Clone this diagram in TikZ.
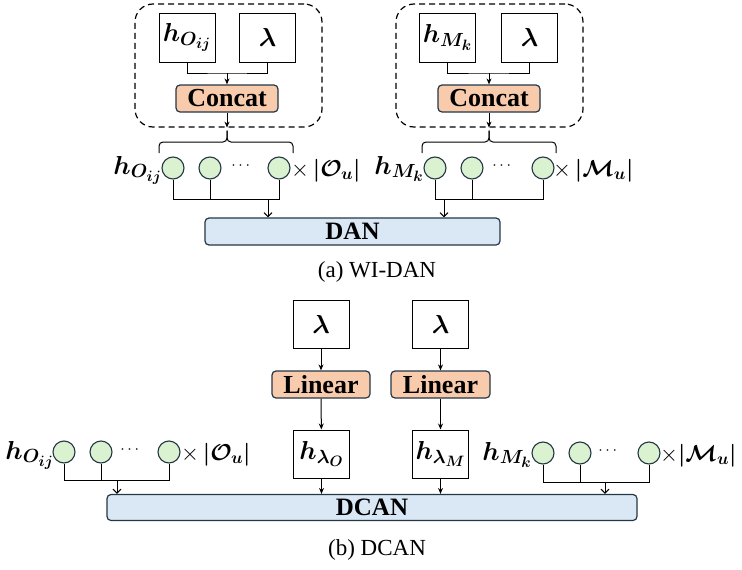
\RequirePackage{fix-cm}
\documentclass[tikz,border=0pt]{standalone}
\usepackage{amsmath}
\usepackage{fontspec}
\setmainfont{Liberation Serif}
\usetikzlibrary{arrows.meta}

% larger script levels for the embedding symbols
\DeclareMathSizes{26}{26}{19}{15}
\DeclareMathSizes{23}{23}{17}{13}

\definecolor{edgec}{HTML}{243746}
\definecolor{peach}{HTML}{F8CBAD}
\definecolor{palegreen}{HTML}{DAF2D0}
\definecolor{paleblue}{HTML}{DAE8F5}

\begin{document}
\begin{tikzpicture}[x=1pt,y=-1pt,
  inbox/.style={draw, line width=1pt, minimum width=56pt, minimum height=49pt,
    inner sep=0pt, font=\fontsize{26}{30}\selectfont\boldmath},
  opbox/.style={draw=edgec, fill=peach, rounded corners=4pt, line width=1.2pt,
    minimum height=27pt, inner sep=0pt, font=\fontsize{26}{30}\selectfont\bfseries},
  bar/.style={draw=edgec, fill=paleblue, rounded corners=4pt, line width=1.2pt,
    minimum height=27pt, inner sep=0pt, font=\fontsize{25}{30}\selectfont\bfseries},
  vec/.style={circle, draw=edgec, fill=palegreen, line width=1.1pt,
    minimum size=22pt, inner sep=0pt},
  group/.style={draw, dash pattern=on 6pt off 4pt, rounded corners=18pt,
    line width=1.2pt, minimum width=187pt, minimum height=123pt, inner sep=0pt},
  wire/.style={line width=1pt},
  feed/.style={wire, -{Stealth[length=6pt,width=5pt]}},
  merge/.style={wire, -{Straight Barb[length=4pt,width=8pt]}},
  lab/.style={font=\fontsize{26}{30}\selectfont\boldmath, inner sep=0pt},
  cnt/.style={font=\fontsize{23}{28}\selectfont\boldmath, inner sep=0pt},
  ell/.style={font=\fontsize{16}{18}\selectfont, inner sep=0pt},
  captext/.style={font=\fontsize{23}{28}\selectfont, inner sep=0pt}]
\useasboundingbox (0,0) rectangle (742,570);

% ---------------- (a) WI-DAN ----------------
% left group: object embedding + lambda
\node[group] (g1) at (228.5,65.5) {};
\node[inbox] (hO1) at (187,37.5) {$h_{O_{ij}}$};
\node[inbox] (lam1) at (267.5,37.5) {$\lambda$};
\node[opbox, minimum width=102pt] (cat1) at (227,98.5) {Concat};
\coordinate (j1) at (227,73);
\draw[wire] (hO1.south) |- (j1) -| (lam1.south);
\draw[feed] (j1) -- (cat1.north);
\coordinate (t1) at (cat1.south |- g1.south);
\draw[feed] (cat1.south) -- (t1);

% right group: motion embedding + lambda
\node[group] (g2) at (489.5,65.5) {};
\node[inbox] (hM1) at (447.5,37.5) {$h_{M_k}$};
\node[inbox] (lam2) at (529.5,37.5) {$\lambda$};
\node[opbox, minimum width=102pt] (cat2) at (489,98.5) {Concat};
\coordinate (j2) at (489,73);
\draw[wire] (hM1.south) |- (j2) -| (lam2.south);
\draw[feed] (j2) -- (cat2.north);
\coordinate (t2) at (cat2.south |- g2.south);
\draw[feed] (cat2.south) -- (t2);

% braces
\draw[wire, rounded corners=4pt] (159,153) -- (159,142) -- (t1 |- 0,142) -- ([yshift=-3pt]t1);
\draw[wire, rounded corners=4pt] (293,153) -- (293,142) -- (t1 |- 0,142) -- ([yshift=-3pt]t1);
\draw[wire, rounded corners=4pt] (422,153) -- (422,142) -- (t2 |- 0,142) -- ([yshift=-3pt]t2);
\draw[wire, rounded corners=4pt] (556,153) -- (556,142) -- (t2 |- 0,142) -- ([yshift=-3pt]t2);

% vector sets
\node[vec] (c11) at (173,168) {};
\node[vec] (c12) at (210,168) {};
\node[ell] (d1) at (242,166) {$\cdots$};
\node[vec] (c13) at (279,168) {};
\node[lab, anchor=base east] (l11) at (162,174) {$h_{O_{ij}}$};
\node[cnt, anchor=base west] (l12) at (291,176) {{\unboldmath$\times$}\,$|\mathcal{O}_{u}|$};

\node[vec] (c21) at (435,168) {};
\node[vec] (c22) at (472,168) {};
\node[ell] (d2) at (503,166) {$\cdots$};
\node[vec] (c23) at (543,168) {};
\node[lab, anchor=base east] (l21) at (424,174) {$h_{M_k}$};
\node[cnt, anchor=base west] (l22) at (553,176) {{\unboldmath$\times$}\,$|\mathcal{M}_{u}|$};

\node[bar, minimum width=295pt] (dan) at (352.5,231.5) {DAN};

\coordinate (m1) at (268,199);
\draw[wire] (c11.south) -- (c11.south |- m1) -- (c13.south |- m1) -- (c13.south);
\draw[wire] (c12.south) -- (c12.south |- m1);
\draw[merge] (m1) -- (m1 |- dan.north);

\coordinate (m2) at (444,199);
\draw[wire] (c21.south) -- (c21.south |- m2) -- (c23.south |- m2) -- (c23.south);
\draw[wire] (c22.south) -- (c22.south |- m2);
\draw[merge] (m2) -- (m2 |- dan.north);

\node[captext] (capa) at (377,272) {(a) WI-DAN};

% ---------------- (b) DCAN ----------------
\node[inbox, minimum height=48pt] (lamO) at (321,324) {$\lambda$};
\node[inbox, minimum height=48pt] (lamM) at (440.5,324) {$\lambda$};
\node[opbox, minimum width=98pt] (linO) at (321,384.5) {Linear};
\node[opbox, minimum width=99pt] (linM) at (440.5,384.5) {Linear};
\node[inbox, minimum height=48pt] (hlO) at (321.5,454) {$h_{\lambda_O}$};
\node[inbox, minimum height=48pt] (hlM) at (440.5,454) {$h_{\lambda_M}$};
\node[bar, minimum width=530pt, minimum height=26pt] (dcan) at (372,507.5) {DCAN};

\draw[feed] (lamO) -- (linO);
\draw[feed] (linO) -- (hlO);
\draw[feed] (hlO.south) -- (hlO.south |- dcan.north);
\draw[feed] (lamM) -- (linM);
\draw[feed] (linM) -- (hlM);
\draw[feed] (hlM.south) -- (hlM.south |- dcan.north);

\node[vec] (c31) at (64,452) {};
\node[vec] (c32) at (101,452) {};
\node[ell] (d3) at (131,450) {$\cdots$};
\node[vec] (c33) at (169,452) {};
\node[lab, anchor=base east] (l31) at (54,459) {$h_{O_{ij}}$};
\node[cnt, anchor=base west] (l32) at (181,460) {{\unboldmath$\times$}\,$|\mathcal{O}_{u}|$};

\node[vec] (c41) at (543,453) {};
\node[vec] (c42) at (580,453) {};
\node[ell] (d4) at (609,451) {$\cdots$};
\node[vec] (c43) at (649,453) {};
\node[lab, anchor=base east] (l41) at (532,460) {$h_{M_k}$};
\node[cnt, anchor=base west] (l42) at (660,461) {{\unboldmath$\times$}$|\mathcal{M}_{u}|$};

\coordinate (m3) at (117,480);
\draw[wire] (c31.south) -- (c31.south |- m3) -- (c33.south |- m3) -- (c33.south);
\draw[wire] (c32.south) -- (c32.south |- m3);
\draw[merge] (m3) -- (m3 |- dcan.north);

\coordinate (m4) at (605,482);
\draw[wire] (c41.south) -- (c41.south |- m4) -- (c43.south |- m4) -- (c43.south);
\draw[wire] (c42.south) -- (c42.south |- m4);
\draw[merge] (m4) -- (m4 |- dcan.north);

\node[captext] (capb) at (377,550) {(b) DCAN};
\end{tikzpicture}
\end{document}
